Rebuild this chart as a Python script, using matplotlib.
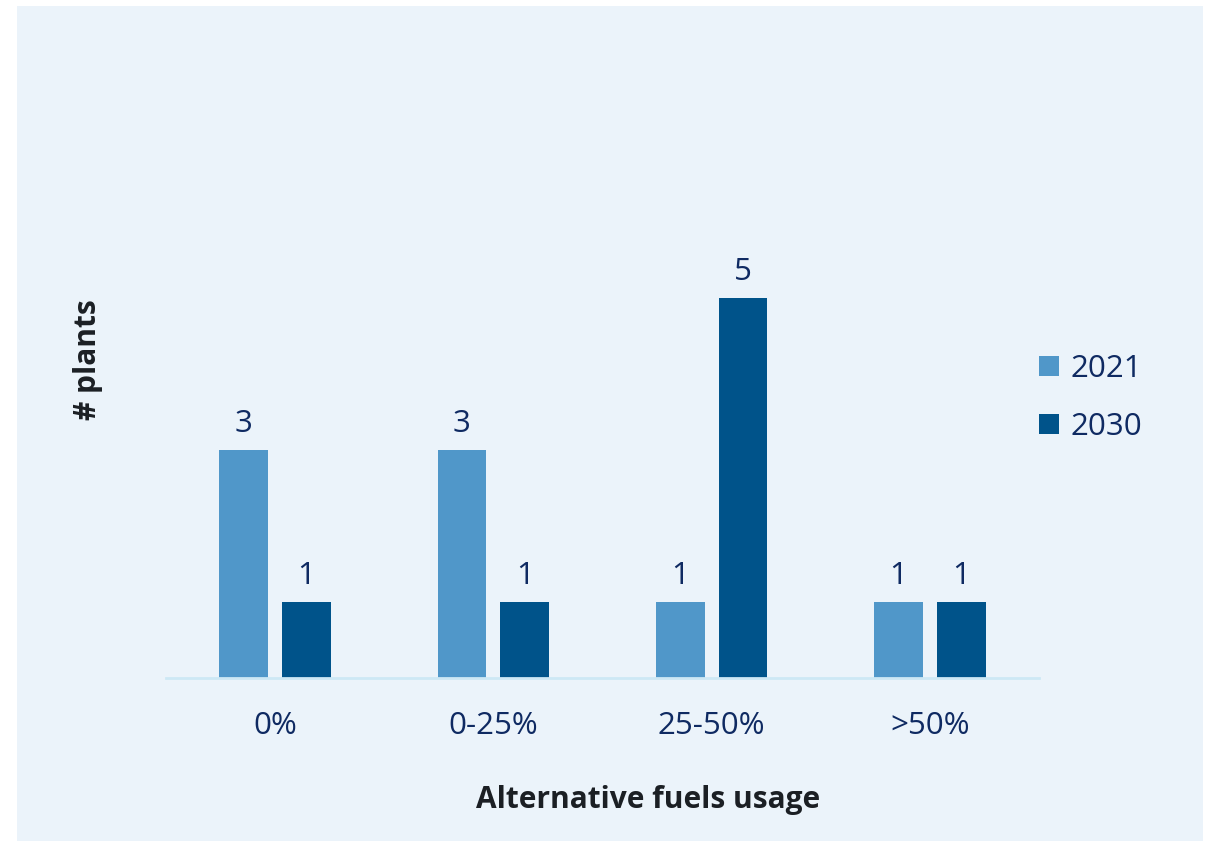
import numpy as np
import matplotlib
matplotlib.use('Agg')
import matplotlib.pyplot as plt
from matplotlib.patches import Rectangle

# Data
categories = ['0%', '0-25%', '25-50%', '>50%']
plants_2021 = [3, 3, 1, 1]
plants_2030 = [1, 1, 5, 1]
series_labels = ['2021', '2030']

# Style
color_2021 = '#5097c9'
color_2030 = '#00538a'
panel_color = '#ebf3fa'
navy = '#0f2a62'
dark = '#1b1f24'

plt.rcParams['font.family'] = ['Open Sans', 'DejaVu Sans']

W, H = 1212, 842
fig = plt.figure(figsize=(W / 100, H / 100), dpi=100, facecolor='white')

# light blue panel behind the chart
fig.patches.append(Rectangle((17 / W, 1 / H), 1186 / W, 835 / H,
                             transform=fig.transFigure, facecolor=panel_color,
                             edgecolor='none', zorder=-1))

ax_top = 50
ax_bottom = 678
ax = fig.add_axes([166 / W, (H - ax_bottom) / H, (1039 - 166) / W, (ax_bottom - ax_top) / H])
ax.patch.set_alpha(0)

x = np.arange(len(categories))
bar_w = 0.224
offset = 0.144
b1 = ax.bar(x - offset, plants_2021, bar_w, color=color_2021, label=series_labels[0])
b2 = ax.bar(x + offset, plants_2030, bar_w, color=color_2030, label=series_labels[1])

for bars in (b1, b2):
    ax.bar_label(bars, padding=8, fontsize=22.5, color=navy)

ax.set_xlim(-0.5, len(categories) - 0.5)
ax.set_ylim(0, (ax_bottom - ax_top) / 76)

for side in ['top', 'right', 'left']:
    ax.spines[side].set_visible(False)
ax.spines['bottom'].set_color('#cde8f5')
ax.spines['bottom'].set_linewidth(2)
ax.set_yticks([])
ax.set_xticks(x)
ax.set_xticklabels(categories, fontsize=22.5, color=navy)
ax.tick_params(axis='x', length=0, pad=24)

fig.text(648 / W, 1 - 800 / H, 'Alternative fuels usage', fontsize=21.5,
         fontweight='bold', color=dark, ha='center', va='center')
fig.text(88 / W, 1 - 360 / H, '# plants', fontsize=21.5, fontweight='bold',
         color=dark, ha='center', va='center', rotation=90)

fig.legend(handles=[b1, b2], loc='upper left', bbox_to_anchor=(1011 / W, 1 - 326 / H),
           frameon=False, fontsize=22.5, handlelength=0.62, handleheight=0.62,
           handletextpad=0.4, labelspacing=0.9, labelcolor=navy)

fig.savefig('out.png', dpi=100, facecolor='white')
